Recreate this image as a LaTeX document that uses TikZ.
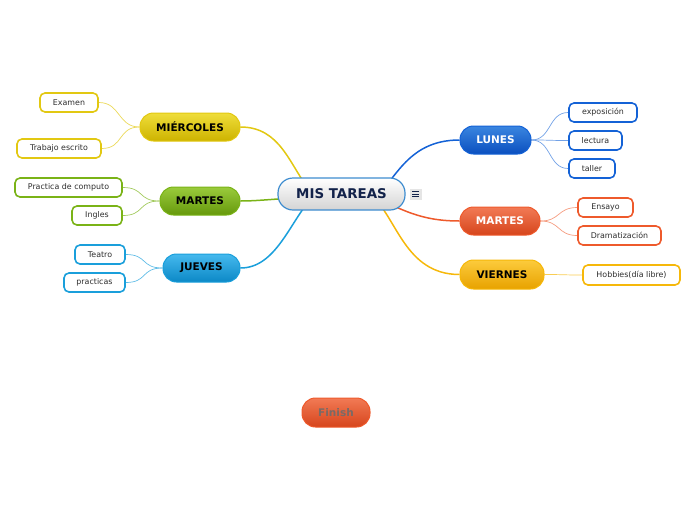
\documentclass[tikz,border=0pt]{standalone}
\usepackage{fontspec}
\setmainfont{DejaVu Sans}
\usetikzlibrary{backgrounds}
\definecolor{bluT}{HTML}{3A86E0}\definecolor{bluB}{HTML}{0B4FBF}\definecolor{bluD}{HTML}{1462D6}
\definecolor{orT}{HTML}{F27A55}\definecolor{orB}{HTML}{D6451C}\definecolor{orD}{HTML}{EE5A2C}
\definecolor{viT}{HTML}{FCCB3C}\definecolor{viB}{HTML}{E8A200}\definecolor{viD}{HTML}{F6B80A}
\definecolor{miT}{HTML}{EFDD3A}\definecolor{miB}{HTML}{CDB300}\definecolor{miD}{HTML}{E2C812}
\definecolor{grT}{HTML}{9ACB3C}\definecolor{grB}{HTML}{66990C}\definecolor{grD}{HTML}{7AB317}
\definecolor{cyT}{HTML}{45B9EE}\definecolor{cyB}{HTML}{0C88C6}\definecolor{cyD}{HTML}{1A9FDB}
\definecolor{cenD}{HTML}{3D8CCF}\definecolor{cenTx}{HTML}{12224A}
\definecolor{leafTx}{HTML}{2E2E2E}\definecolor{finTx}{HTML}{7A6A66}
\tikzset{
  mainbox/.style n args={3}{rectangle, rounded corners=13.5pt, minimum height=28pt, inner sep=0pt,
     top color=#1, bottom color=#2, draw=#3, line width=1pt,
     font=\fontsize{10.5}{12}\selectfont\bfseries},
  leafbox/.style={rectangle, rounded corners=5pt, minimum height=19pt, inner sep=0pt, fill=white,
     draw=#1, line width=1.6pt, text=leafTx, font=\fontsize{7.9}{9}\selectfont},
  conn/.style={draw=#1, line width=1.5pt},
  lconn/.style={draw=#1, line width=0.7pt},
}
\begin{document}
\begin{tikzpicture}[x=1pt,y=-1pt]
\useasboundingbox (0,0) rectangle (696,520);
% central
\node[rectangle, rounded corners=15pt, minimum width=127pt, minimum height=32pt, inner sep=0pt,
  top color=white, bottom color=black!17, draw=cenD, line width=1.2pt, text=cenTx,
  font=\fontsize{13.4}{15}\selectfont\bfseries] (c) at (341.5,194) {MIS TAREAS};
\node[rectangle, fill=black!10, minimum width=12pt, minimum height=11pt, inner sep=0pt] (hint) at (415.5,194) {};
\foreach \dy in {-2.5,0,2.5} \draw[cenTx, line width=0.8pt] ([xshift=-3.5pt,yshift=-\dy pt]hint.center) -- ([xshift=3.5pt,yshift=-\dy pt]hint.center);
% main branches
\node[mainbox={bluT}{bluB}{bluD}, text=white, minimum width=71pt] (lun) at (495.5,140) {LUNES};
\node[mainbox={orT}{orB}{orD}, text=white, minimum width=80pt] (mar) at (500,221) {MARTES};
\node[mainbox={viT}{viB}{viD}, text=black, minimum width=84pt, minimum height=29pt] (vie) at (502,274.5) {VIERNES};
\node[mainbox={miT}{miB}{miD}, text=black, minimum width=100pt] (mie) at (190,127) {MIÉRCOLES};
\node[mainbox={grT}{grB}{grD}, text=black, minimum width=80pt] (mal) at (200,201) {MARTES};
\node[mainbox={cyT}{cyB}{cyD}, text=black, minimum width=77pt] (jue) at (201.5,268) {JUEVES};
\node[mainbox={orT}{orB}{orD}, text=finTx, minimum width=68pt, minimum height=29pt] (fin) at (336,412.5) {Finish};
% leaves
\node[leafbox=bluD, minimum width=68pt] (expo) at (603,112.5) {exposición};
\node[leafbox=bluD, minimum width=53pt] (lect) at (595.5,140.5) {lectura};
\node[leafbox=bluD, minimum width=46pt] (tall) at (592,168.5) {taller};
\node[leafbox=orD, minimum width=55pt] (ens) at (605.5,207.5) {Ensayo};
\node[leafbox=orD, minimum width=83pt] (dram) at (619.5,235.5) {Dramatización};
\node[leafbox=viD, minimum width=97pt, minimum height=20pt] (hob) at (631.5,275) {Hobbies(día libre)};
\node[leafbox=miD, minimum width=58pt] (exa) at (69,102.5) {Examen};
\node[leafbox=miD, minimum width=84pt] (trab) at (59,148.5) {Trabajo escrito};
\node[leafbox=grD, minimum width=107pt] (prac) at (68.5,187.5) {Practica de computo};
\node[leafbox=grD, minimum width=50pt] (ing) at (97,215.5) {Ingles};
\node[leafbox=cyD, minimum width=50pt] (tea) at (100,254.5) {Teatro};
\node[leafbox=cyD, minimum width=61pt] (pra) at (94.5,282.5) {practicas};
\begin{pgfonlayer}{background}
% central connectors
\path[conn=bluD] ([shift={(30,6)}]c.center) .. controls +(23,-15) and +(-55,0) .. (lun.west);
\path[conn=orD] ([shift={(30,2)}]c.center) .. controls +(30,13) and +(-40,0) .. (mar.west);
\path[conn=viD] ([shift={(30,2)}]c.center) .. controls +(25,20) and +(-55,0) .. (vie.west);
\path[conn=miD] (mie.east) .. controls +(40,0) and +(-20,-25) .. ([shift={(-32,-4)}]c.center);
\path[conn=grD] (mal.east) .. controls +(20,0) and +(-20,0) .. ([shift={(-40,4)}]c.center);
\path[conn=cyD] (jue.east) .. controls +(35,0) and +(-22,25) .. ([shift={(-30,4)}]c.center);
% leaf connectors
\path[lconn=bluD!60] (lun.east) .. controls +(20,0) and +(-20,0) .. (expo.west);
\path[lconn=bluD!60] (lun.east) .. controls +(20,0) and +(-20,0) .. (lect.west);
\path[lconn=bluD!60] (lun.east) .. controls +(20,0) and +(-20,0) .. (tall.west);
\path[lconn=orD!60] (mar.east) .. controls +(20,0) and +(-20,0) .. (ens.west);
\path[lconn=orD!60] (mar.east) .. controls +(20,0) and +(-20,0) .. (dram.west);
\path[lconn=viD!70] (vie.east) .. controls +(20,0) and +(-20,0) .. (hob.west);
\path[lconn=miD!70] (mie.west) .. controls +(-22,0) and +(22,0) .. (exa.east);
\path[lconn=miD!70] (mie.west) .. controls +(-22,0) and +(22,0) .. (trab.east);
\path[lconn=grD!70] (mal.west) .. controls +(-22,0) and +(22,0) .. (prac.east);
\path[lconn=grD!70] (mal.west) .. controls +(-22,0) and +(22,0) .. (ing.east);
\path[lconn=cyD!70] (jue.west) .. controls +(-22,0) and +(22,0) .. (tea.east);
\path[lconn=cyD!70] (jue.west) .. controls +(-22,0) and +(22,0) .. (pra.east);
\end{pgfonlayer}
\end{tikzpicture}
\end{document}
